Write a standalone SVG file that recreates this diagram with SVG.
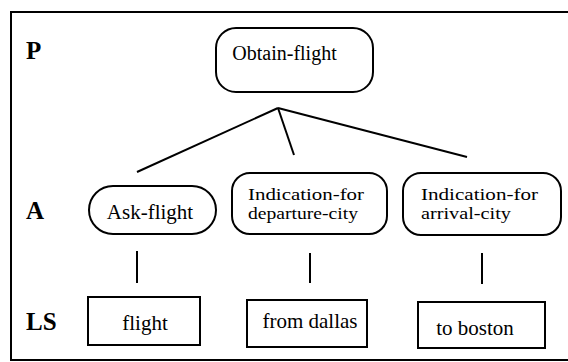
<svg xmlns="http://www.w3.org/2000/svg" width="568" height="362" viewBox="0 0 568 362">
<style>
.bg{fill:#ffffff}
.frame{fill:none;stroke:#000;stroke-width:2}
.node{fill:#ffffff;stroke:#000;stroke-width:2}
.conn{stroke:#000;stroke-width:2;fill:none}
text{font-family:'Liberation Serif','Times New Roman',Times,serif;fill:#000}
.t{font-size:21px;text-anchor:middle}
.t2{font-size:16px;text-anchor:start}
.lvl{font-size:25px;font-weight:bold}
</style>
<rect class="bg" x="0" y="0" width="568" height="362"/>
<path class="frame" d="M568 12 H11 V360 H568"/>
<g id="levels">
<text class="lvl" x="26" y="59">P</text>
<text class="lvl" x="26" y="219">A</text>
<text class="lvl" x="26" y="330">LS</text>
</g>
<g id="connectors">
<line class="conn" x1="278" y1="108" x2="137" y2="172"/>
<line class="conn" x1="278" y1="108" x2="294" y2="155"/>
<line class="conn" x1="278" y1="108" x2="467" y2="157"/>
<line class="conn" x1="137" y1="251" x2="137" y2="283"/>
<line class="conn" x1="310" y1="253" x2="310" y2="283"/>
<line class="conn" x1="482" y1="253" x2="482" y2="284"/>
</g>
<g id="obtain-flight">
<rect class="node" x="216" y="28" width="157" height="64" rx="20"/>
<text class="t" x="284.5" y="60" style="font-size:20px">Obtain-flight</text>
</g>
<g id="ask-flight">
<rect class="node" x="89" y="186" width="127" height="48" rx="24"/>
<text class="t" x="150" y="219">Ask-flight</text>
</g>
<g id="departure">
<rect class="node" x="232" y="173" width="155" height="61" rx="18"/>
<text class="t2" x="248" y="200" textLength="116" lengthAdjust="spacingAndGlyphs">Indication-for</text>
<text class="t2" x="248" y="219" textLength="110" lengthAdjust="spacingAndGlyphs">departure-city</text>
</g>
<g id="arrival">
<rect class="node" x="403" y="173" width="158" height="62" rx="18"/>
<text class="t2" x="421" y="200" textLength="117" lengthAdjust="spacingAndGlyphs">Indication-for</text>
<text class="t2" x="421" y="219" textLength="90" lengthAdjust="spacingAndGlyphs">arrival-city</text>
</g>
<g id="ls-flight">
<rect class="node" x="88" y="297" width="112" height="48"/>
<text class="t" x="145" y="330">flight</text>
</g>
<g id="ls-dallas">
<rect class="node" x="247" y="300" width="120" height="47"/>
<text class="t" x="310" y="328">from dallas</text>
</g>
<g id="ls-boston">
<rect class="node" x="418" y="302" width="127" height="46"/>
<text class="t" x="475" y="335">to boston</text>
</g>
</svg>
